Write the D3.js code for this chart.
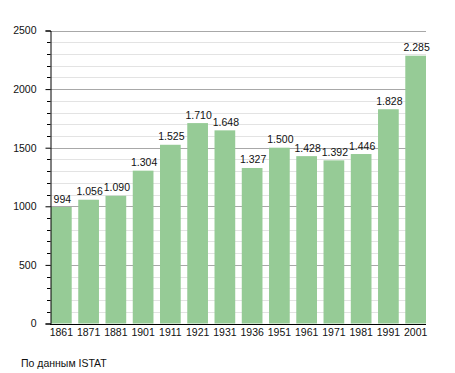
<!DOCTYPE html>
<html>
<head>
<meta charset="utf-8">
<script src="https://cdn.jsdelivr.net/npm/d3@7"></script>
<style>
  body { margin: 0; background: #fff; }
  text { font-family: "Liberation Sans", Arial, sans-serif; }
</style>
</head>
<body>
<svg id="chart" width="455" height="373"></svg>
<script>
var years = ["1861", "1871", "1881", "1901", "1911", "1921", "1931", "1936", "1951", "1961", "1971", "1981", "1991", "2001"];
var population = [994, 1056, 1090, 1304, 1525, 1710, 1648, 1327, 1500, 1428, 1392, 1446, 1828, 2285];
var yTicks = [0, 500, 1000, 1500, 2000, 2500];
var sourceNote = "По данным  ISTAT";

var svg = d3.select("#chart");

var x = d3.scaleBand()
    .domain(years)
    .range([51, 426])
    .paddingInner(0.24)
    .paddingOuter(0);

var y = d3.scaleLinear()
    .domain([0, 2500])
    .range([323.5, 30.5]);

var fmt = d3.formatLocale({ decimal: ",", thousands: ".", grouping: [3], currency: ["", ""] }).format(",d");

// minor grid every 100
svg.append("g").selectAll("line")
    .data(d3.range(100, 2501, 100).filter(function(v) { return v % 500 !== 0; }))
    .enter().append("line")
    .attr("x1", 50).attr("x2", 426)
    .attr("y1", function(d) { return Math.round(y(d)) + 0.5; })
    .attr("y2", function(d) { return Math.round(y(d)) + 0.5; })
    .attr("stroke", "#e3e3e3");

// major grid
svg.append("g").selectAll("line")
    .data(yTicks.slice(1))
    .enter().append("line")
    .attr("x1", 50).attr("x2", 426)
    .attr("y1", function(d) { return Math.round(y(d)) + 0.5; })
    .attr("y2", function(d) { return Math.round(y(d)) + 0.5; })
    .attr("stroke", "#a8a8a8");

// bars
svg.append("g").selectAll("rect")
    .data(population)
    .enter().append("rect")
    .attr("x", function(d, i) { return x(years[i]); })
    .attr("width", x.bandwidth())
    .attr("y", function(d) { return y(d); })
    .attr("height", function(d) { return y(0) - y(d); })
    .attr("fill", "#96cb96");

// value labels
svg.append("g").selectAll("text")
    .data(population)
    .enter().append("text")
    .attr("x", function(d, i) { return x(years[i]) + x.bandwidth() / 2 + 1; })
    .attr("y", function(d) { return y(d) - 4.5; })
    .attr("text-anchor", "middle")
    .attr("font-size", 10.5)
    .attr("fill", "#111")
    .text(function(d) { return fmt(d); });

// y axis
var yAxis = d3.axisLeft(y)
    .tickValues(yTicks)
    .tickSize(5)
    .tickPadding(9)
    .tickFormat(d3.format("d"));

var gy = svg.append("g")
    .attr("transform", "translate(50.5,0)")
    .call(yAxis);
gy.select(".domain").attr("stroke", "#000");
gy.selectAll(".tick line").attr("stroke", "#000");
gy.selectAll(".tick text").attr("font-size", 10.5).attr("fill", "#111")
    .attr("font-family", "'Liberation Sans', Arial, sans-serif");

// minor ticks on y axis
svg.append("g").selectAll("line")
    .data(d3.range(100, 2500, 100).filter(function(v) { return v % 500 !== 0; }))
    .enter().append("line")
    .attr("x1", 47).attr("x2", 50.5)
    .attr("y1", function(d) { return Math.round(y(d)) + 0.5; })
    .attr("y2", function(d) { return Math.round(y(d)) + 0.5; })
    .attr("stroke", "#000");

// x axis
var xAxis = d3.axisBottom(x).tickSize(0).tickPadding(4);
var gx = svg.append("g")
    .attr("transform", "translate(0," + (Math.round(y(0)) + 0.5) + ")")
    .call(xAxis);
gx.select(".domain").attr("d", "M50,0H426").attr("stroke", "#000");
gx.selectAll(".tick text").attr("font-size", 10.5).attr("fill", "#111")
    .attr("font-family", "'Liberation Sans', Arial, sans-serif");

// source note
svg.append("text")
    .attr("x", 21)
    .attr("y", 367)
    .attr("font-size", 10.5)
    .attr("fill", "#111")
    .text(sourceNote);
</script>
</body>
</html>
